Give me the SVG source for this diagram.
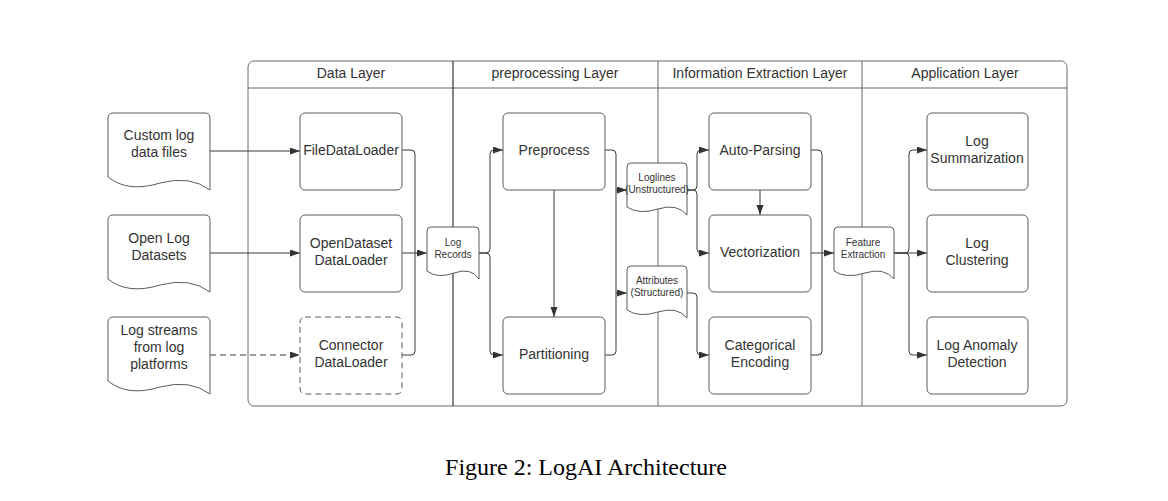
<svg xmlns="http://www.w3.org/2000/svg" xmlns:xlink="http://www.w3.org/1999/xlink" width="1168" height="501" viewBox="0 0 1168 501">
<style>
.frame{fill:none;stroke:#6b6b6b;stroke-width:1}
.div{fill:none;stroke:#6b6b6b;stroke-width:1}
.box{fill:#fff;stroke:#5a5a5a;stroke-width:1}
.dash{stroke-dasharray:6 4}
.doc{fill:#fff;stroke:#5a5a5a;stroke-width:1}
.t{font-family:"Liberation Sans",Arial,sans-serif;font-size:14px;fill:#333;text-anchor:middle}
.ts{font-family:"Liberation Sans",Arial,sans-serif;font-size:10px;fill:#333;text-anchor:middle}
.c{fill:none;stroke:#3a3a3a;stroke-width:1}
.a{marker-end:url(#arr)}
.cap{font-family:"Liberation Serif","Times New Roman",serif;font-size:24px;fill:#000;text-anchor:middle}
</style>
<defs>
<marker id="arr" markerUnits="userSpaceOnUse" markerWidth="11" markerHeight="8" refX="10" refY="3.5" orient="auto">
<path d="M0,0 L10,3.5 L0,7 Z" fill="#333"/>
</marker>
<path id="docB" d="M0,64 L0,5 Q0,0 5,0 L97,0 Q102,0 102,5 L102,77 Q82,62 52,70 Q20,80 0,64 Z"/>
<path id="docS52" d="M0,44 L0,4 Q0,0 4,0 L48,0 Q52,0 52,4 L52,52 Q44,40 27,46 Q10,52 0,44 Z"/>
<path id="docS60" d="M0,44 L0,4 Q0,0 4,0 L56,0 Q60,0 60,4 L60,52 Q50,40 31,46 Q12,52 0,44 Z"/>
</defs>
<rect width="1168" height="501" fill="#fff"/>

<g id="layers">
<rect class="frame" x="248" y="61" width="819" height="345" rx="6"/>
<line class="div" x1="248" y1="88" x2="1067" y2="88"/>
<line x1="453" y1="61" x2="453" y2="406" stroke="#333" stroke-width="1.2"/>
<line class="div" x1="658" y1="61" x2="658" y2="406"/>
<line class="div" x1="862" y1="61" x2="862" y2="406"/>
<text class="t" x="351" y="78">Data Layer</text>
<text class="t" x="555" y="78">preprocessing Layer</text>
<text class="t" x="760" y="78">Information Extraction Layer</text>
<text class="t" x="965" y="78">Application Layer</text>
</g>

<g id="connectors">
<path class="c a" d="M210,151 L300,151"/>
<path class="c a" d="M210,253 L300,253"/>
<path class="c a dash" d="M210,355 L300,355"/>
<path class="c" d="M402,150 L411,150 Q415,150 415,154 L415,351 Q415,355 411,355 L402,355"/>
<path class="c a" d="M402,253 L427,253"/>
<path class="c a" d="M479,253 L486,253 Q490,253 490,249 L490,154 Q490,150 494,150 L503,150"/>
<path class="c a" d="M479,253 L486,253 Q490,253 490,257 L490,351 Q490,355 494,355 L503,355"/>
<path class="c a" d="M554,189 L554,317"/>
<path class="c" d="M605,150 L612,150 Q616,150 616,154 L616,351 Q616,355 612,355 L605,355"/>
<path class="c a" d="M616,190 L627,190"/>
<path class="c a" d="M616,293 L627,293"/>
<path class="c a" d="M687,190 L693,190 Q697,190 697,186 L697,154 Q697,150 701,150 L709,150"/>
<path class="c a" d="M687,190 L693,190 Q697,190 697,194 L697,249 Q697,253 701,253 L709,253"/>
<path class="c a" d="M687,293 L693,293 Q697,293 697,297 L697,351 Q697,355 701,355 L709,355"/>
<path class="c a" d="M760,189 L760,215"/>
<path class="c" d="M811,150 L818,150 Q822,150 822,154 L822,351 Q822,355 818,355 L811,355"/>
<path class="c a" d="M811,253 L834,253"/>
<path class="c a" d="M893,253 L905,253 Q909,253 909,249 L909,154 Q909,150 913,150 L927,150"/>
<path class="c a" d="M893,253 L927,253"/>
<path class="c a" d="M893,253 L905,253 Q909,253 909,257 L909,351 Q909,355 913,355 L927,355"/>
</g>

<g id="src-custom"><use href="#docB" xlink:href="#docB" class="doc" x="108" y="113"/>
<text class="t" x="159" y="140">Custom log</text><text class="t" x="159" y="157">data files</text></g>
<g id="src-open"><use href="#docB" xlink:href="#docB" class="doc" x="108" y="215"/>
<text class="t" x="159" y="243">Open Log</text><text class="t" x="159" y="260">Datasets</text></g>
<g id="src-stream"><use href="#docB" xlink:href="#docB" class="doc" x="108" y="317"/>
<text class="t" x="159" y="335">Log streams</text><text class="t" x="159" y="352">from log</text><text class="t" x="159" y="369">platforms</text></g>

<g id="filedataloader"><rect class="box" x="300" y="113" width="102" height="77" rx="5"/>
<text class="t" x="351" y="155">FileDataLoader</text></g>
<g id="opendataset"><rect class="box" x="300" y="215" width="102" height="77" rx="5"/>
<text class="t" x="351" y="248">OpenDataset</text><text class="t" x="351" y="265">DataLoader</text></g>
<g id="connectorloader"><rect class="box dash" x="300" y="317" width="102" height="77" rx="5"/>
<text class="t" x="351" y="350">Connector</text><text class="t" x="351" y="367">DataLoader</text></g>

<g id="logrecords"><use href="#docS52" xlink:href="#docS52" class="doc" x="427" y="227"/>
<text class="ts" x="453" y="246">Log</text><text class="ts" x="453" y="258">Records</text></g>

<g id="preprocess"><rect class="box" x="503" y="113" width="102" height="77" rx="5"/>
<text class="t" x="554" y="155">Preprocess</text></g>
<g id="partitioning"><rect class="box" x="503" y="317" width="102" height="77" rx="5"/>
<text class="t" x="554" y="359">Partitioning</text></g>

<g id="loglines"><use href="#docS60" xlink:href="#docS60" class="doc" x="627" y="163"/>
<text class="ts" x="657" y="181">Loglines</text><text class="ts" x="657" y="193">(Unstructured)</text></g>
<g id="attributes"><use href="#docS60" xlink:href="#docS60" class="doc" x="627" y="266"/>
<text class="ts" x="657" y="284">Attributes</text><text class="ts" x="657" y="296">(Structured)</text></g>

<g id="autoparsing"><rect class="box" x="709" y="113" width="102" height="77" rx="5"/>
<text class="t" x="760" y="155">Auto-Parsing</text></g>
<g id="vectorization"><rect class="box" x="709" y="215" width="102" height="77" rx="5"/>
<text class="t" x="760" y="257">Vectorization</text></g>
<g id="categorical"><rect class="box" x="709" y="317" width="102" height="77" rx="5"/>
<text class="t" x="760" y="350">Categorical</text><text class="t" x="760" y="367">Encoding</text></g>

<g id="featureextraction"><use href="#docS60" xlink:href="#docS60" class="doc" x="834" y="227"/>
<text class="ts" x="863" y="246">Feature</text><text class="ts" x="863" y="258">Extraction</text></g>

<g id="summarization"><rect class="box" x="927" y="113" width="101" height="77" rx="5"/>
<text class="t" x="977" y="146">Log</text><text class="t" x="977" y="163">Summarization</text></g>
<g id="clustering"><rect class="box" x="927" y="215" width="101" height="77" rx="5"/>
<text class="t" x="977" y="248">Log</text><text class="t" x="977" y="265">Clustering</text></g>
<g id="anomaly"><rect class="box" x="927" y="317" width="101" height="77" rx="5"/>
<text class="t" x="977" y="350">Log Anomaly</text><text class="t" x="977" y="367">Detection</text></g>

<text class="cap" x="586" y="475">Figure 2: LogAI Architecture</text>
</svg>
